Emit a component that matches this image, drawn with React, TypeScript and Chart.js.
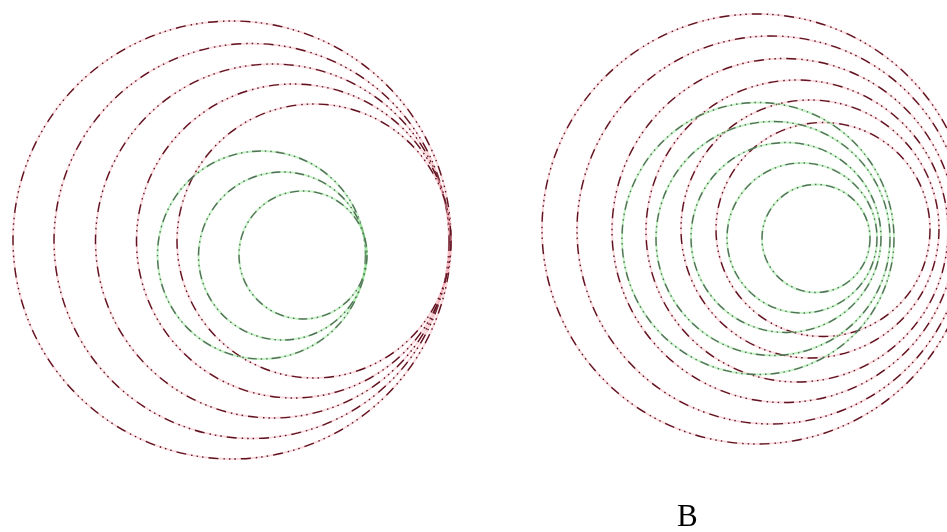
import React, { useEffect, useRef } from "react";
import { Chart, registerables } from "chart.js";

Chart.register(...registerables);

// Panel A (left) — outer family of circles (red) and inner family (green)
const leftRedCx = [232, 251.5, 272.5, 293.5, 314];
const leftRedCy = [240, 241, 241, 241, 241];
const leftRedR = [219, 197.5, 177, 157, 137];

const leftGreenCx = [261.5, 282.5, 303];
const leftGreenCy = [255, 256, 255];
const leftGreenR = [104, 84, 64];

// Panel B (right)
const rightRedCx = [757, 771, 784, 797, 810, 823];
const rightRedCy = [229, 230, 230.5, 231, 229, 229.5];
const rightRedR = [215, 194, 172, 151, 129, 107];

const rightGreenCx = [758, 773, 786, 802, 816];
const rightGreenCy = [238.5, 238.5, 237.5, 238, 238.5];
const rightGreenR = [136, 117, 95, 75, 54];

const panelLabel = "B";

const RED = "#5e1420";
const RED_GLOW = "rgba(245,170,180,0.45)";
const GREEN = "#55705a";
const GREEN_GLOW = "rgba(140,230,140,0.5)";
const RED_DASH = [10, 5, 1.5, 4, 1.5, 4, 1.5, 5];
const GREEN_DASH = [9, 4, 1.5, 4, 1.5, 4];

function circles(cx: number[], cy: number[], r: number[]) {
  return cx.map((x, i) => ({ x, y: cy[i], r: r[i] }));
}

const circlesPlugin = {
  id: "circles",
  afterDatasetsDraw(chart: any) {
    const { ctx, scales } = chart;
    const xs = scales.x;
    const ys = scales.y;
    chart.data.datasets.forEach((ds: any, i: number) => {
      const meta = chart.getDatasetMeta(i);
      ds.data.forEach((p: any, j: number) => {
        const el = meta.data[j];
        const px = el.x;
        const py = el.y;
        const rx = Math.abs(xs.getPixelForValue(p.x + p.r) - px);
        const ry = Math.abs(ys.getPixelForValue(p.y + p.r) - py);
        ctx.save();
        ctx.beginPath();
        ctx.ellipse(px, py, rx, ry, 0, 0, Math.PI * 2);
        ctx.setLineDash([]);
        ctx.lineWidth = 2;
        ctx.strokeStyle = ds.glowColor;
        ctx.stroke();
        ctx.beginPath();
        ctx.ellipse(px, py, rx, ry, 0, 0, Math.PI * 2);
        ctx.setLineDash(ds.dashPattern);
        ctx.lineWidth = 1.4;
        ctx.strokeStyle = ds.borderColor;
        ctx.stroke();
        ctx.restore();
      });
    });
  },
};

export default function App() {
  const ref = useRef<HTMLCanvasElement | null>(null);
  useEffect(() => {
    if (!ref.current) return;
    const mk = (label: string, data: any, color: string, glow: string, dash: number[]) => ({
      label,
      data,
      borderColor: color,
      backgroundColor: color,
      glowColor: glow,
      dashPattern: dash,
      pointRadius: 0,
      pointHoverRadius: 0,
      showLine: false,
    });
    const chart = new Chart(ref.current, {
      type: "scatter",
      data: {
        datasets: [
          mk("A outer", circles(leftRedCx, leftRedCy, leftRedR), RED, RED_GLOW, RED_DASH),
          mk("B outer", circles(rightRedCx, rightRedCy, rightRedR), RED, RED_GLOW, RED_DASH),
          mk("A inner", circles(leftGreenCx, leftGreenCy, leftGreenR), GREEN, GREEN_GLOW, GREEN_DASH),
          mk("B inner", circles(rightGreenCx, rightGreenCy, rightGreenR), GREEN, GREEN_GLOW, GREEN_DASH),
        ] as any,
      },
      options: {
        animation: false,
        responsive: false,
        maintainAspectRatio: false,
        layout: { padding: 0 },
        plugins: { legend: { display: false }, tooltip: { enabled: false }, title: { display: false } },
        scales: {
          x: { type: "linear", min: 0, max: 947, display: false },
          y: { type: "linear", min: 0, max: 532, reverse: true, display: false },
        },
      },
      plugins: [circlesPlugin],
    });
    return () => chart.destroy();
  }, []);
  return (
    <div style={{ position: "absolute", left: 0, top: 0, width: 947, height: 532, background: "#fff" }}>
      <canvas ref={ref} width={947} height={532} style={{ display: "block" }} />
      <div
        style={{
          position: "absolute",
          left: 677,
          top: 500,
          fontFamily: "'Liberation Serif', 'Times New Roman', serif",
          fontSize: 31,
          lineHeight: "31px",
          color: "#000",
        }}
      >
        {panelLabel}
      </div>
    </div>
  );
}
